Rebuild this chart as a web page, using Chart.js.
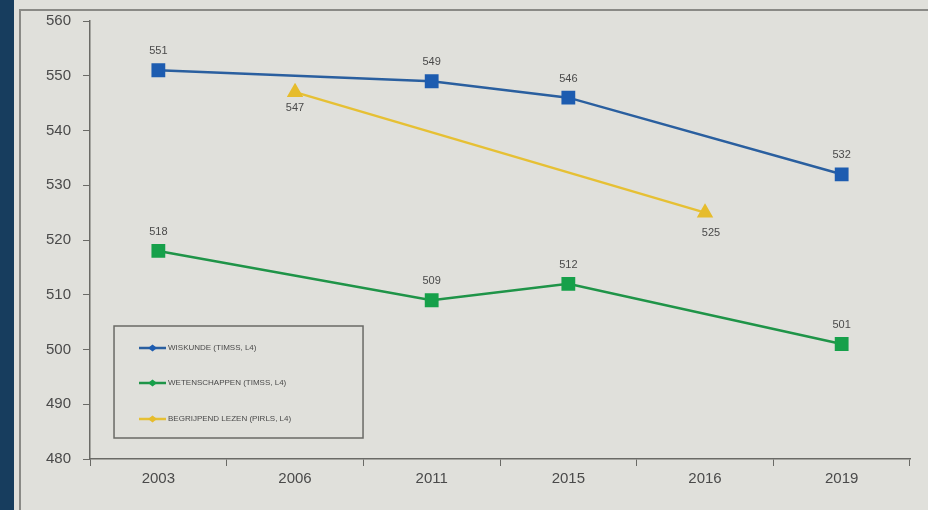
<!DOCTYPE html>
<html>
<head>
<meta charset="utf-8">
<script src="https://cdn.jsdelivr.net/npm/chart.js@4/dist/chart.umd.min.js"></script>
<style>
  html, body { margin: 0; padding: 0; }
  body { width: 928px; height: 510px; background: #e0e0db; position: relative; overflow: hidden; }
  #strip { position: absolute; left: 0; top: 0; width: 14px; height: 510px; background: #173d5e; }
  #frame { position: absolute; left: 19px; top: 9px; width: 915px; height: 510px; border-left: 2px solid #8a8a86; border-top: 2px solid #8a8a86; }
  #wrap { position: absolute; left: 0; top: 0; width: 928px; height: 510px; }
</style>
</head>
<body>
<div id="strip"></div>
<div id="frame"></div>
<div id="wrap"><canvas id="c" width="928" height="510"></canvas></div>
<script>
const categories = ['2003', '2006', '2011', '2015', '2016', '2019'];
const wiskunde = [551, null, 549, 546, null, 532];
const wetenschappen = [518, null, 509, 512, null, 501];
const lezen = [null, 547, null, null, 525, null];
const seriesNames = ['WISKUNDE (TIMSS, L4)', 'WETENSCHAPPEN (TIMSS, L4)', 'BEGRIJPEND LEZEN (PIRLS, L4)'];
const yTicks = [480, 490, 500, 510, 520, 530, 540, 550, 560];

const labelFont = '"Liberation Sans Narrow", "Liberation Sans", sans-serif';

const valueLabels = {
  id: 'valueLabels',
  afterDatasetsDraw(chart) {
    const ctx = chart.ctx;
    ctx.save();
    ctx.font = '11px ' + labelFont;
    ctx.fillStyle = '#4a4a4a';
    ctx.textAlign = 'center';
    ctx.textBaseline = 'middle';
    chart.data.datasets.forEach((ds, di) => {
      const meta = chart.getDatasetMeta(di);
      meta.data.forEach((pt, i) => {
        const v = ds.data[i];
        if (v === null) return;
        let dx = 0, dy = -19;
        if (di === 2) { dy = (i === 1) ? 16 : 20; dx = (i === 1) ? 0 : 6; }
        ctx.fillText(String(v), pt.x + dx, pt.y + dy);
      });
    });
    ctx.restore();
  }
};

const boxLegend = {
  id: 'boxLegend',
  afterDraw(chart) {
    const ctx = chart.ctx;
    const a = chart.chartArea;
    const x0 = a.left + 24, y0 = a.bottom - 133, w = 249, h = 112;
    ctx.save();
    ctx.strokeStyle = '#6a6a66';
    ctx.lineWidth = 1.5;
    ctx.strokeRect(x0, y0, w, h);
    ctx.font = '8px ' + labelFont;
    ctx.textBaseline = 'middle';
    ctx.textAlign = 'left';
    const ys = [y0 + 22, y0 + 57, y0 + 93];
    chart.data.datasets.forEach((ds, di) => {
      const y = ys[di];
      ctx.strokeStyle = ds.borderColor;
      ctx.lineWidth = 2.5;
      ctx.beginPath();
      ctx.moveTo(x0 + 25, y);
      ctx.lineTo(x0 + 52, y);
      ctx.stroke();
      ctx.fillStyle = ds.pointBackgroundColor;
      ctx.beginPath();
      ctx.moveTo(x0 + 38.5, y - 3.5);
      ctx.lineTo(x0 + 43, y);
      ctx.lineTo(x0 + 38.5, y + 3.5);
      ctx.lineTo(x0 + 34, y);
      ctx.closePath();
      ctx.fill();
      ctx.fillStyle = '#4a4a4a';
      ctx.fillText(ds.label, x0 + 54, y);
    });
    ctx.restore();
  }
};

new Chart(document.getElementById('c'), {
  type: 'line',
  data: {
    labels: categories,
    datasets: [
      { label: seriesNames[0], data: wiskunde, borderColor: '#2a5f9f', backgroundColor: '#1d5cb0',
        pointBackgroundColor: '#1d5cb0', pointBorderColor: '#1d5cb0', pointStyle: 'rect', pointRadius: 8, borderWidth: 2.5, spanGaps: true },
      { label: seriesNames[1], data: wetenschappen, borderColor: '#1f9448', backgroundColor: '#16a04a',
        pointBackgroundColor: '#16a04a', pointBorderColor: '#16a04a', pointStyle: 'rect', pointRadius: 8, borderWidth: 2.5, spanGaps: true },
      { label: seriesNames[2], data: lezen, borderColor: '#e6c034', backgroundColor: '#e6bc2c',
        pointBackgroundColor: '#e6bc2c', pointBorderColor: '#e6bc2c', pointStyle: 'triangle', pointRadius: 7, borderWidth: 2.5, spanGaps: true }
    ]
  },
  options: {
    responsive: false,
    animation: false,
    layout: { padding: { left: 34, right: 18, top: 17, bottom: 18 } },
    plugins: { legend: { display: false }, tooltip: { enabled: false } },
    scales: {
      x: {
        offset: true,
        grid: { offset: true, drawOnChartArea: false, color: '#6a6a66', tickLength: 7 },
        border: { color: '#6a6a66', width: 1.5 },
        ticks: { color: '#4a4a4a', font: { family: labelFont, size: 15 }, padding: 4 }
      },
      y: {
        min: 480, max: 560,
        afterBuildTicks(scale) { scale.ticks = yTicks.map(v => ({ value: v })); },
        grid: { drawOnChartArea: false, color: '#6a6a66', tickLength: 7 },
        border: { color: '#6a6a66', width: 1.5 },
        ticks: { color: '#4a4a4a', font: { family: labelFont, size: 15 }, padding: 12 }
      }
    }
  },
  plugins: [valueLabels, boxLegend]
});
</script>
</body>
</html>
